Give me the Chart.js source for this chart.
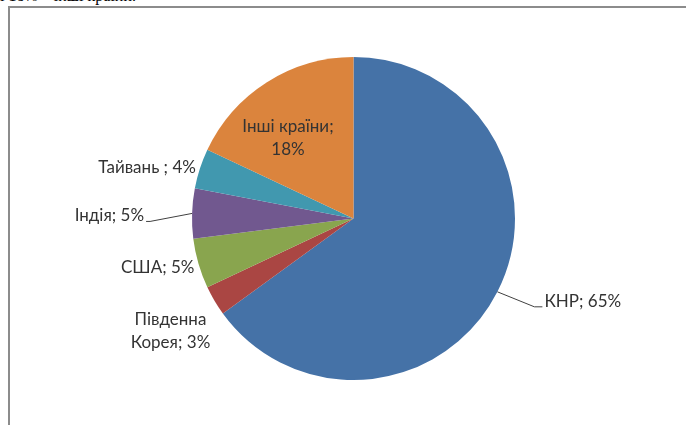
<!DOCTYPE html>
<html>
<head>
<meta charset="utf-8">
<script src="https://cdn.jsdelivr.net/npm/chart.js@4.4.1/dist/chart.umd.min.js"></script>
<style>
  body { margin: 0; width: 686px; height: 425px; overflow: hidden; background: #fff; position: relative; }
  .topText { position: absolute; left: 0; top: -12px; font-family: "Liberation Serif", serif; font-size: 16px; line-height: 16px; color: #000; white-space: nowrap; }
  .frame { position: absolute; left: 8px; top: 6px; width: 720px; height: 500px; border: 2px solid #8c8c8c; }
  #pieChart { position: absolute; left: 0; top: 0; }
</style>
</head>
<body>
<div class="topText">і 18% – інші країни.</div>
<div class="frame"></div>
<canvas id="pieChart" width="686" height="425"></canvas>
<script>
// дані діаграми
const countries = ["КНР", "Південна Корея", "США", "Індія", "Тайвань ", "Інші країни"];
const shares = [65, 3, 5, 5, 4, 18];
const sliceColors = ["#4572A7", "#AA4643", "#89A54E", "#71588F", "#4198AF", "#DB843D"];

// де ставити підписи відносно краю сектора
const labelPlace = [
  { dx: 47, dy: 15, align: "left", base: "alphabetic", leader: [[37, 15], [45, 15]] },
  { dx: -44, dy: 19, align: "center", base: "middle", wrap: 92 },
  { dx: -4, dy: 4, align: "right", base: "middle" },
  { dx: -48, dy: 8, align: "right", base: "alphabetic", leader: [[-42, 8], [-46, 8]] },
  { dx: -4, dy: -1, align: "right", base: "middle" },
  { dx: 21, dy: 44, align: "center", base: "middle", wrap: 104 },
];

const pieLabels = {
  id: "pieLabels",
  afterDraw(chart) {
    const c = chart.ctx;
    const arcs = chart.getDatasetMeta(0).data;
    c.save();
    c.font = "17px Lato";
    c.fillStyle = "#333";
    c.strokeStyle = "#404040";
    c.lineWidth = 1;
    arcs.forEach((arc, i) => {
      const p = labelPlace[i];
      const mid = (arc.startAngle + arc.endAngle) / 2;
      const ex = arc.x + Math.cos(mid) * arc.outerRadius;
      const ey = arc.y + Math.sin(mid) * arc.outerRadius;
      if (p.leader) {
        c.beginPath();
        c.moveTo(ex, ey);
        p.leader.forEach((pt) => c.lineTo(ex + pt[0], ey + pt[1]));
        c.stroke();
      }
      const text = countries[i] + "; " + shares[i] + "%";
      let lines = [text];
      if (p.wrap) {
        lines = [];
        let cur = "";
        text.split(" ").forEach((w) => {
          const test = cur ? cur + " " + w : w;
          if (cur && c.measureText(test).width > p.wrap) {
            lines.push(cur);
            cur = w;
          } else {
            cur = test;
          }
        });
        lines.push(cur);
      }
      c.textAlign = p.align;
      c.textBaseline = p.base;
      lines.forEach((ln, k) => {
        c.fillText(ln, ex + p.dx, ey + p.dy + k * 23);
      });
    });
    c.restore();
  },
};

const ctx = document.getElementById("pieChart");

new Chart(ctx, {
  type: "pie",
  data: {
    labels: countries,
    datasets: [
      {
        data: shares,
        backgroundColor: sliceColors,
        borderWidth: 0,
      },
    ],
  },
  options: {
    responsive: false,
    animation: false,
    layout: {
      padding: { top: 57, bottom: 45, left: 21, right: 0 },
    },
    plugins: {
      legend: { display: false },
      tooltip: { enabled: false },
    },
  },
  plugins: [pieLabels],
});
</script>
</body>
</html>
